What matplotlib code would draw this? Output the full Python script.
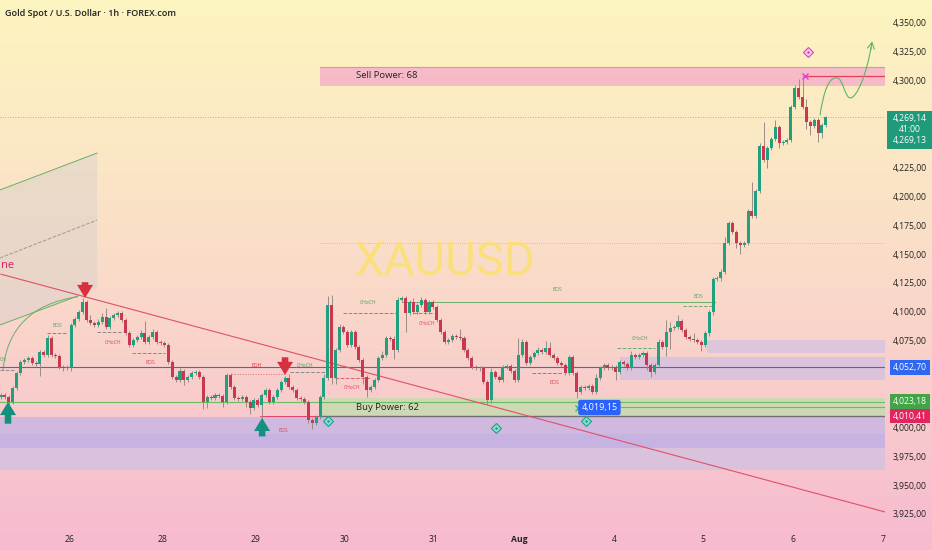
import numpy as np
import matplotlib
matplotlib.use('Agg')
import matplotlib.pyplot as plt
import matplotlib.transforms as mtransforms
from matplotlib.patches import Rectangle, Polygon, PathPatch
from matplotlib.path import Path

plt.rcParams['font.family'] = ['Open Sans', 'DejaVu Sans']

# hourly closes (XAUUSD)
closes = [
    4028.8, 4027.1, 4022.8, 4034.9, 4047.9, 4057.4, 4059.2, 4060.9, 4056.6, 4055.7,
    4066.1, 4063.5, 4078.2, 4063.5, 4062.6, 4053.1, 4052.2, 4052.5, 4089.4, 4094.6,
    4100.7, 4109.4, 4093.8, 4091.2, 4089.4, 4092.0, 4096.4, 4087.7, 4095.5, 4098.1,
    4099.8, 4093.8, 4082.5, 4072.1, 4076.5, 4079.1, 4082.5, 4074.7, 4079.1, 4083.4,
    4074.7, 4073.9, 4072.1, 4057.4, 4044.4, 4041.8, 4049.6, 4041.8, 4044.4, 4047.9,
    4048.8, 4044.4, 4022.8, 4027.1, 4026.5, 4028.8, 4028.0, 4022.8, 4046.2, 4035.8,
    4026.3, 4025.5, 4027.1, 4022.8, 4017.6, 4024.5, 4020.2, 4028.8, 4033.2, 4022.8,
    4027.1, 4033.2, 4040.1, 4043.6, 4035.8, 4033.2, 4026.3, 4025.5, 4022.8, 4007.2,
    4004.6, 4009.8, 4027.1, 4043.6, 4106.8, 4043.6, 4067.8, 4087.7, 4083.4, 4072.1,
    4083.4, 4070.4, 4059.2, 4044.4, 4033.2, 4035.8, 4041.8, 4060.9, 4063.5, 4078.2,
    4077.5, 4067.8, 4111.1, 4112.8, 4099.8, 4109.4, 4100.7, 4106.8, 4111.1, 4100.7,
    4109.4, 4105.0, 4093.8, 4083.4, 4074.7, 4076.5, 4079.9, 4079.4, 4078.2, 4067.8,
    4060.9, 4053.1, 4052.2, 4051.8, 4040.1, 4024.5, 4048.8, 4044.4, 4041.8, 4053.1,
    4054.0, 4049.6, 4041.8, 4063.5, 4074.7, 4056.6, 4061.7, 4065.2, 4067.8, 4066.1,
    4069.5, 4063.5, 4060.9, 4056.6, 4054.8, 4047.9, 4061.7, 4047.9, 4031.4, 4035.8,
    4035.3, 4036.6, 4031.4, 4043.6, 4052.2, 4054.8, 4052.2, 4053.1, 4048.8, 4057.4,
    4055.7, 4052.2, 4063.5, 4061.7, 4063.5, 4065.2, 4054.8, 4048.8, 4054.8, 4074.7,
    4070.4, 4083.4, 4086.9, 4087.7, 4092.9, 4085.1, 4079.1, 4077.3, 4076.5, 4074.7,
    4072.1, 4082.5, 4100.7, 4129.3, 4129.8, 4135.3, 4160.4, 4177.7, 4170.0, 4160.4,
    4158.7, 4160.4, 4188.1, 4183.8, 4205.4, 4244.4, 4232.3, 4242.7, 4250.4, 4260.8,
    4247.0, 4247.8, 4249.6, 4278.2, 4294.6, 4286.8, 4278.2, 4265.2, 4261.7, 4266.9,
    4255.6, 4262.6, 4269.14,
]
first_open = 4027.5

# wick length above / below the body, in $
upper_wick = [
    1.5, 1.5, 1.5, 2, 2, 2, 1.5, 2, 1.5, 2,
    2, 2, 3, 1.5, 2, 1.5, 1.5, 2, 2, 2,
    2, 3, 2, 4, 2, 3, 3, 8, 2, 2,
    2, 2, 2, 1.5, 2, 2, 3, 10, 2, 3,
    2, 1.5, 2, 2, 2, 2, 3, 2, 2, 2,
    2, 2, 2, 2, 2, 1.5, 2, 2, 2, 2,
    2, 1.5, 2, 2, 2, 2, 2, 2, 2, 2,
    2, 2, 2, 2, 3, 2, 2, 2, 2, 2,
    1.5, 2, 2, 3, 8, 9, 2, 3, 2, 2,
    2, 2, 2, 2, 2, 2, 2, 2, 3, 2,
    2, 2, 3, 2, 2, 2, 3, 2, 3, 2,
    2, 2, 2, 2, 2, 2, 2, 2, 7, 2,
    2, 2, 2, 2, 2, 2, 3, 2, 2, 2,
    2, 2, 2, 15, 3, 2, 2, 2, 3, 2,
    6, 5, 2, 2, 2, 2, 2, 2, 2, 2,
    2, 2, 2, 3, 2, 2, 2, 2, 2, 2,
    2, 2, 3, 2, 2, 2, 2, 2, 2, 3,
    2, 10, 5, 2, 5, 2, 2, 2, 5, 2,
    2, 2, 2, 2, 2, 3, 5, 2, 2, 2,
    2, 2, 2, 25, 2, 3, 21, 2, 2, 6,
    2, 2, 2, 2, 3, 8, 18, 7, 2, 2,
    2, 2, 1,
]
lower_wick = [
    2, 2, 4, 2, 2, 2, 2, 2, 2, 2,
    10, 2, 2, 2, 2, 2, 3, 2, 3, 2,
    2, 2, 2, 2, 2, 2, 2, 2, 2, 2,
    2, 2, 2, 2, 2, 2, 2, 2, 2, 2,
    2, 2, 2, 2, 2, 2, 2, 4, 2, 2,
    2, 2, 6, 5, 2, 2, 2, 4, 2, 2,
    2, 2, 2, 4, 5, 2, 2, 12, 2, 2,
    2, 2, 2, 2, 2, 2, 2, 2, 2, 3,
    5, 2, 2, 2, 2, 5, 5, 2, 2, 2,
    2, 2, 2, 6, 6, 2, 2, 2, 2, 2,
    2, 8, 2, 2, 16, 2, 2, 2, 2, 2,
    2, 2, 2, 2, 2, 2, 2, 2, 2, 2,
    2, 2, 2, 2, 2, 4, 3, 2, 2, 2,
    2, 2, 2, 2, 2, 2, 2, 2, 2, 2,
    2, 2, 2, 2, 2, 2, 2, 2, 5, 2,
    2, 2, 2, 2, 2, 2, 2, 2, 7, 2,
    2, 2, 2, 2, 2, 2, 4, 4, 2, 2,
    2, 8, 15, 2, 2, 2, 2, 2, 2, 2,
    5, 2, 3, 3, 2, 2, 2, 2, 2, 4,
    8, 2, 2, 2, 2, 2, 2, 7, 2, 2,
    4, 2, 2, 2, 2, 2, 2, 6, 8, 2,
    8, 4, 2,
]

day_labels = ['26', '28', '29', '30', '31', 'Aug', '4', '5', '6', '7']
day_pos = [17.7, 41.6, 65.3, 88.2, 111.1, 133.2, 157.6, 180.5, 203.6, 226.7]
price_ticks = [4350, 4325, 4300, 4225, 4200, 4175, 4150, 4125, 4100, 4075,
               4000, 3975, 3950, 3925]

last_price = 4269.14
blue_level = 4052.70
green_level = 4023.18
red_level = 4010.41
sell_zone = (82, 4296.3, 4312.8)      # start bar, low, high
buy_zone = (82, 4009.8, 4026.3)
sell_line = (206.7, 4304.6)
demand_zones = [                       # start bar, low, high, colour
    (-1, 3995.0, 4009.8, '#c9b6e3'),
    (-1, 3983.0, 3995.0, '#bfb0e6'),
    (-1, 3964.0, 3983.0, '#d5c2df'),
    (159, 4041.8, 4061.7, '#d6c3df'),
    (181.5, 4065.2, 4076.5, '#d9c5df'),
]
trend = [(0, 4133.4), (227.2, 3927.6)]
channel_top = [(-0.3, 4206.3), (24.7, 4238.3)]
channel_mid = [(-0.3, 4147.4), (24.7, 4180.3)]
channel_bot = [(-0.3, 4089.4), (24.7, 4121.5)]

# structure marks: x0, x1, price, line colour, linestyle, label, label x, label y
structure = [
    (11.8, 17.0, 4082.5, '#5aa55a', '--', 'BOS', 14.4, 4089.0),
    (24.7, 31.4, 4083.4, '#8a8a8a', '--', 'CHoCH', 28.8, 4074.7),
    (33.7, 42.2, 4065.2, '#8a8a8a', '--', 'BOS', 38.3, 4057.4),
    (-0.3, 3.6, 4050.5, '#8a8a8a', '--', 'CH', -0.2, 4059.2),
    (59.4, 73.0, 4047.0, '#e06070', ':', 'EQH', 65.8, 4054.5),
    (74.3, 83.3, 4048.8, '#8a8a8a', '--', 'CHoCH', 78.2, 4054.5),
    (66.6, 82.0, red_level, '#e04060', '-', 'BOS', 72.5, 3998.0),
    (88.0, 102.1, 4099.8, '#5aa55a', '--', 'CHoCH', 94.3, 4109.0),
    (85.9, 94.9, 4043.6, '#d06070', '--', 'CHoCH', 90.2, 4035.0),
    (103.1, 183.6, 4109.7, '#6aae6a', '-', 'BOS', 143.0, 4120.0),
    (105.9, 111.0, 4099.8, '#d06070', '--', 'CHoCH', 109.5, 4091.0),
    (136.5, 144.5, 4047.9, '#d06070', '--', 'BOS', 142.2, 4039.3),
    (158.4, 168.1, 4069.5, '#6aae6a', '--', 'CHoCH', 164.3, 4077.5),
    (175.3, 183.0, 4106.0, '#6aae6a', '--', 'BOS', 179.2, 4114.5),
]
green_labels = [0, 3, 5, 7, 9, 12, 13]

down_arrows = [(21.6, 4126.5, 4112.8), (73.0, 4061.5, 4046.2)]   # x, tail, tip
up_arrows = [(1.8, 4004.0, 4022.8), (67.1, 3993.0, 4009.0)]
diamonds = [(84.1, 4006.3), (127.3, 4000.3), (150.4, 4006.3)]

GREEN = '#20a07e'
RED = '#c8394f'
WICK = '#9a8c84'

fig = plt.figure(figsize=(9.32, 5.5), dpi=100)

# background gradient over the whole picture
bg = fig.add_axes([0, 0, 1, 1], zorder=-10)
stops = np.array([[253, 245, 192], [250, 222, 200], [247, 186, 208]]) / 255
t = np.linspace(0, 1, 300)
grad = np.stack([np.interp(t, [0, 0.45, 1], stops[:, k]) for k in range(3)], axis=1)
bg.imshow(grad[:, None, :], aspect='auto', extent=[0, 1, 0, 1])
bg.axis('off')

ax = fig.add_axes([0, 25 / 550, 885 / 932, 525 / 550])
ax.patch.set_alpha(0)
ax.set_xlim(-0.26, 227.2)
ax.set_ylim(3916.3, 4370.77)
for s in ax.spines.values():
    s.set_visible(False)
ax.set_xticks([])
ax.set_yticks([])
xr = ax.get_xlim()[1]

# zones
for x0, lo, hi, col in demand_zones:
    ax.add_patch(Rectangle((x0, lo), xr - x0, hi - lo, color=col, alpha=0.85, lw=0, zorder=1))
ax.add_patch(Rectangle((sell_zone[0], sell_zone[1]), xr - sell_zone[0], sell_zone[2] - sell_zone[1],
                       color='#f5b2c8', alpha=0.85, lw=0, zorder=1))
ax.plot([sell_zone[0], xr], [sell_zone[2], sell_zone[2]], color='#e78aab', lw=0.8, zorder=2)
ax.add_patch(Rectangle((buy_zone[0], buy_zone[1]), xr - buy_zone[0], buy_zone[2] - buy_zone[1],
                       color='#c4dcae', alpha=0.8, lw=0, zorder=1))
ax.text(91.3, 4305, 'Sell Power: 68', fontsize=6.8, va='center', color='#222', zorder=9)
ax.text(91.3, 4017.6, 'Buy Power: 62', fontsize=6.8, va='center', color='#222', zorder=9)

# channel top-left
ax.add_patch(Polygon([channel_top[0], channel_top[1], channel_bot[1], channel_bot[0]],
                     closed=True, color='#d6d0cc', alpha=0.45, lw=0, zorder=1))
ax.plot(*zip(*channel_top), color='#6aae6a', lw=0.7, zorder=2)
ax.plot(*zip(*channel_mid), color='#9a9a9a', lw=0.7, ls='--', zorder=2)
ax.plot([channel_bot[0][0], 19.8], [channel_bot[0][1], 4114.6], color='#6aae6a', lw=0.7, zorder=2)
curve = Path([(0.5, 4050.0), (2.0, 4105.0), (19.8, 4114.0)], [Path.MOVETO, Path.CURVE3, Path.CURVE3])
ax.add_patch(PathPatch(curve, fc='none', ec='#6aae6a', lw=0.7, zorder=2))

# horizontal levels
ax.axhline(last_price, color='#9a9a9a', lw=0.6, ls=(0, (1, 2)), zorder=2)
ax.plot([82, xr], [4160.4, 4160.4], color='#b0a0a0', lw=0.5, ls=(0, (1, 2)), zorder=2)
ax.axhline(blue_level, color='#4a64d8', lw=0.8, zorder=2)
ax.axhline(green_level, color='#6dbb63', lw=0.8, zorder=2)
ax.plot([148.3, xr], [4018.5, 4018.5], color='#6dbb63', lw=0.8, zorder=2)
ax.plot([82, xr], [red_level, red_level], color='#6f6f6f', lw=1.0, zorder=2)
ax.plot([sell_line[0], xr], [sell_line[1], sell_line[1]], color='#e0405a', lw=0.9, zorder=3)

# trendline (its label is cut by the left edge, only "ne" shows)
ax.plot(*zip(*trend), color='#e0506a', lw=0.8, zorder=3)
ax.text(0.0, 4141, 'ne', color='#d4235a', fontsize=8, ha='left', va='center', zorder=3)

# structure lines & labels
for k, (x0, x1, p, col, ls, lab, lx, ly) in enumerate(structure):
    ax.plot([x0, x1], [p, p], color=col, lw=0.7, ls=ls, zorder=3)
    tc = '#4f9f5a' if k in green_labels else ('#e0303a' if lab == 'EQH' else '#e0405a')
    ha = 'left' if lab == 'CH' else 'center'
    ax.text(lx, ly, lab, fontsize=3.6, color=tc, ha=ha, va='center', zorder=3)

# watermark
ax.text(114, 4144, 'XAUUSD', fontsize=34, color='#fbe06e', alpha=0.85, ha='center', va='center',
        family='Roboto', zorder=2)

# candles
opens = [first_open] + closes[:-1]
o = np.array(opens)
c = np.array(closes)
x = np.arange(len(c))
highs = np.maximum(o, c) + np.array(upper_wick)
lows = np.minimum(o, c) - np.array(lower_wick)
cols = np.where(c >= o, GREEN, RED)
ax.vlines(x, lows, highs, color=WICK, lw=0.7, zorder=4)
body = np.maximum(np.abs(c - o), 0.6)
ax.bar(x, body, bottom=np.minimum(o, c), width=0.78, color=cols, lw=0, zorder=5)

# arrows
for xa, tail, tip in down_arrows:
    ax.annotate('', xy=(xa, tip), xytext=(xa, tail),
                arrowprops=dict(arrowstyle='simple,head_width=1.1,head_length=0.9,tail_width=0.45',
                                color='#d9303f', lw=0, mutation_scale=10.5, shrinkA=0, shrinkB=0),
                zorder=8)
for xa, tail, tip in up_arrows:
    ax.annotate('', xy=(xa, tip), xytext=(xa, tail),
                arrowprops=dict(arrowstyle='simple,head_width=1.1,head_length=0.9,tail_width=0.45',
                                color='#14907e', lw=0, mutation_scale=10.5, shrinkA=0, shrinkB=0),
                zorder=8, annotation_clip=False)

for xd, yd in diamonds:
    ax.plot(xd, yd, marker='D', ms=5, mfc='#8fdccc', mec='#1aa08c', mew=0.8, zorder=8)
    ax.plot(xd, yd, marker='D', ms=1.6, mfc='#1aa08c', mec='none', zorder=9)
ax.plot(207.5, 4325.8, marker='D', ms=5, mfc='#f7c6e8', mec='#e040d0', mew=0.8, zorder=8)
ax.plot(207.5, 4325.8, marker='D', ms=1.6, mfc='#e040d0', mec='none', zorder=9)
ax.plot(sell_line[0], 4305.0, marker='x', ms=5, mec='#e040d0', mew=1.0, zorder=9)
ax.plot(148.3, 4018.0, marker='x', ms=4, mec='#3bb85a', mew=1.0, zorder=9)

# 4,019,15 label
ax.text(153.8, 4018.0, '4,019,15', fontsize=6.5, color='white', ha='center', va='center', zorder=10,
        bbox=dict(boxstyle='round,pad=0.35,rounding_size=0.25', fc='#2962ff', ec='none'))

# projected path
proj = Path([(210.5, 4271.0), (211.5, 4293.0), (212.8, 4303.5), (214.7, 4303.5),
             (216.5, 4303.5), (216.8, 4286.0), (218.3, 4286.0),
             (220.0, 4286.0), (222.6, 4308.0), (223.6, 4330.0)],
            [Path.MOVETO, Path.CURVE4, Path.CURVE4, Path.CURVE4,
             Path.CURVE4, Path.CURVE4, Path.CURVE4,
             Path.CURVE4, Path.CURVE4, Path.CURVE4])
ax.add_patch(PathPatch(proj, fc='none', ec='#5fb36a', lw=0.8, zorder=6))
ax.annotate('', xy=(223.9, 4335.0), xytext=(223.5, 4327.0),
            arrowprops=dict(arrowstyle='->,head_width=0.25,head_length=0.45', color='#5fb36a', lw=0.8,
                            shrinkA=0, shrinkB=0), zorder=6)

# title
fig.text(5 / 932, 1 - 13 / 550, 'Gold Spot / U.S. Dollar · 1h · FOREX.com', fontsize=6.5,
         color='#1e1e1e', fontweight='semibold', va='center')

# price scale
tr_y = mtransforms.blended_transform_factory(fig.transFigure, ax.transData)
for p in price_ticks:
    fig.text(910 / 932, p, f"{p:,},00", transform=tr_y, fontsize=6.2, color='#222',
             ha='center', va='center')
for p, col in [(blue_level, '#2f66f2'), (green_level, '#43a447'), (red_level, '#e3245e')]:
    lab = f"{p:,.2f}".replace('.', ',')
    fig.text(910 / 932, p, lab, transform=tr_y, fontsize=6.2, color='white', ha='center', va='center',
             bbox=dict(boxstyle='square,pad=0.3', fc=col, ec='none'))
fig.patches.append(Rectangle((887 / 932, 1 - 149 / 550), 45 / 932, 38 / 550, transform=fig.transFigure,
                             fc='#1f9a7a', ec='none', zorder=5))
for yy, s in [(118, '4,269,14'), (129, '41:00'), (141, '4,269,13')]:
    fig.text(910 / 932, 1 - yy / 550, s, fontsize=6.2, color='white', ha='center', va='center', zorder=6)

# time scale
tr_x = mtransforms.blended_transform_factory(ax.transData, fig.transFigure)
for pos, lab in zip(day_pos, day_labels):
    fig.text(pos, 10 / 550, lab, transform=tr_x, fontsize=6.2, color='#222', ha='center', va='center',
             fontweight='bold' if lab == 'Aug' else 'normal')

plt.savefig('out.png', dpi=100)
